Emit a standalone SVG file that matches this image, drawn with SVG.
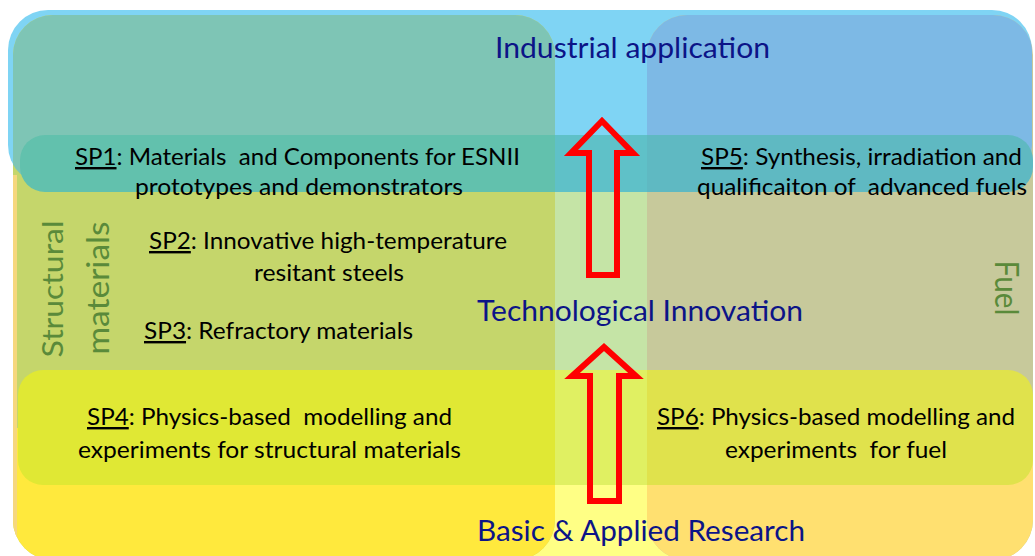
<svg xmlns="http://www.w3.org/2000/svg" width="1035" height="556" viewBox="0 0 1035 556">
  <style>
    .head{font-family:Lato,"Liberation Sans",sans-serif;font-size:29px;fill:#0c1487}
    .body{font-family:Lato,"Liberation Sans",sans-serif;font-size:24px;fill:#000}
    .axis{font-family:Lato,"Liberation Sans",sans-serif;fill:#5a8a3a}
    .u{text-decoration:underline}
    .arrow{fill:none;stroke:#ff0000;stroke-width:6;stroke-linejoin:miter;stroke-miterlimit:10}
  </style>
  <defs>
    <!-- shared band shapes -->
    <rect id="topShape" x="8" y="10" width="1024" height="175" rx="40"/>
    <rect id="sp1Band" x="20" y="135" width="1013" height="57" rx="25"/>
    <rect id="sp4Band" x="18" y="370" width="1015" height="115" rx="25"/>
    <clipPath id="leftClip"><rect x="13" y="15" width="542" height="545" rx="40"/></clipPath>
    <clipPath id="rightClip"><rect x="647" y="15" width="386" height="545" rx="40"/></clipPath>
  </defs>

  <!-- central column / backdrop bands -->
  <g id="backdrop">
    <rect x="500" y="150" width="200" height="300" fill="#c5e4a6"/>
    <rect x="500" y="428" width="200" height="128" fill="#ffff85"/>
    <use href="#topShape" fill="#7fd4f4"/>
    <use href="#sp1Band" fill="#5fc1c8"/>
    <use href="#sp4Band" fill="#e0f062"/>
  </g>

  <!-- structural materials column -->
  <g id="structural-column" clip-path="url(#leftClip)">
    <rect x="0" y="0" width="1035" height="556" fill="#c5d66b"/>
    <rect x="0" y="428" width="1035" height="140" fill="#ffe93d"/>
    <use href="#topShape" fill="#7ec5b5"/>
    <rect x="13" y="175" width="4" height="370" fill="#f6d77e"/>
    <use href="#sp1Band" fill="#62c1ad"/>
    <use href="#sp4Band" fill="#e0e834"/>
  </g>

  <!-- fuel column -->
  <g id="fuel-column" clip-path="url(#rightClip)">
    <rect x="0" y="0" width="1035" height="556" fill="#c7c99b"/>
    <rect x="0" y="428" width="1035" height="140" fill="#ffe070"/>
    <use href="#topShape" fill="#7db9e5"/>
    <use href="#sp1Band" fill="#5fb9c2"/>
    <use href="#sp4Band" fill="#e0e24c"/>
  </g>

  <!-- column labels -->
  <g id="label-structural">
    <text class="axis" font-size="29" text-anchor="middle" textLength="137" lengthAdjust="spacingAndGlyphs" transform="translate(63,289) rotate(-90)">Structural</text>
    <text class="axis" font-size="30" text-anchor="middle" textLength="133" lengthAdjust="spacingAndGlyphs" transform="translate(109,288) rotate(-90)">materials</text>
  </g>
  <g id="label-fuel">
    <text class="axis" font-size="32" text-anchor="middle" textLength="55" lengthAdjust="spacingAndGlyphs" transform="translate(995,288) rotate(90)">Fuel</text>
  </g>

  <!-- level headings -->
  <g id="industrial-application">
    <text class="head" x="495" y="58" textLength="275" lengthAdjust="spacingAndGlyphs">Industrial application</text>
  </g>
  <g id="technological-innovation">
    <text class="head" x="477" y="321" textLength="326" lengthAdjust="spacingAndGlyphs">Technological Innovation</text>
  </g>
  <g id="basic-applied-research">
    <text class="head" x="477" y="541" textLength="328" lengthAdjust="spacingAndGlyphs">Basic &amp; Applied Research</text>
  </g>

  <!-- sub-projects -->
  <g id="sp1">
    <text class="body" xml:space="preserve" x="75" y="165" textLength="445" lengthAdjust="spacingAndGlyphs"><tspan class="u">SP1</tspan>: Materials  and Components for ESNII</text>
    <text class="body" x="135" y="195" textLength="328" lengthAdjust="spacingAndGlyphs">prototypes and demonstrators</text>
  </g>
  <g id="sp2">
    <text class="body" x="149" y="249" textLength="358" lengthAdjust="spacingAndGlyphs"><tspan class="u">SP2</tspan>: Innovative high-temperature</text>
    <text class="body" x="254" y="281" textLength="150" lengthAdjust="spacingAndGlyphs">resitant steels</text>
  </g>
  <g id="sp3">
    <text class="body" x="144" y="339" textLength="269" lengthAdjust="spacingAndGlyphs"><tspan class="u">SP3</tspan>: Refractory materials</text>
  </g>
  <g id="sp4">
    <text class="body" xml:space="preserve" x="87" y="425" textLength="365" lengthAdjust="spacingAndGlyphs"><tspan class="u">SP4</tspan>: Physics-based  modelling and</text>
    <text class="body" x="78" y="458" textLength="383" lengthAdjust="spacingAndGlyphs">experiments for structural materials</text>
  </g>
  <g id="sp5">
    <text class="body" x="701" y="165" textLength="321" lengthAdjust="spacingAndGlyphs"><tspan class="u">SP5</tspan>: Synthesis, irradiation and</text>
    <text class="body" xml:space="preserve" x="697" y="195" textLength="330" lengthAdjust="spacingAndGlyphs">qualificaiton of  advanced fuels</text>
  </g>
  <g id="sp6">
    <text class="body" x="657" y="425" textLength="358" lengthAdjust="spacingAndGlyphs"><tspan class="u">SP6</tspan>: Physics-based modelling and</text>
    <text class="body" xml:space="preserve" x="725" y="458" textLength="222" lengthAdjust="spacingAndGlyphs">experiments  for fuel</text>
  </g>

  <!-- upward progression arrows -->
  <g id="connectors">
    <path class="arrow" d="M602,121 L633,153 L617,153 L617,275 L589,275 L589,153 L571,153 Z"/>
    <path class="arrow" d="M604,347 L636,376 L619,376 L619,501 L590,501 L590,376 L572,376 Z"/>
  </g>
</svg>
